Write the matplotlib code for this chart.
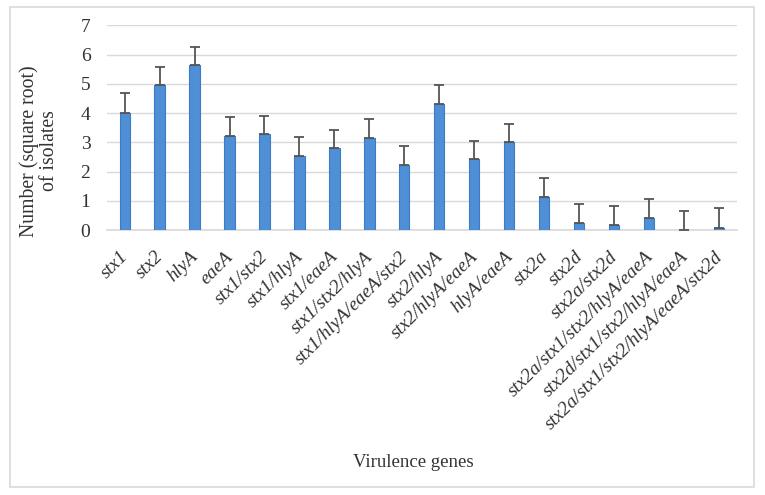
import matplotlib
matplotlib.use('Agg')
import matplotlib.pyplot as plt
import matplotlib.transforms as mtransforms
from matplotlib.patches import Rectangle

genes = ['stx1', 'stx2', 'hlyA', 'eaeA', 'stx1/stx2', 'stx1/hlyA', 'stx1/eaeA',
         'stx1/stx2/hlyA', 'stx1/hlyA/eaeA/stx2', 'stx2/hlyA', 'stx2/hlyA/eaeA',
         'hlyA/eaeA', 'stx2a', 'stx2d', 'stx2a/stx2d',
         'stx2a/stx1/stx2/hlyA/eaeA', 'stx2d/stx1/stx2/hlyA/eaeA',
         'stx2a/stx1/stx2/hlyA/eaeA/stx2d']
values = [4.0, 4.97, 5.63, 3.2, 3.28, 2.52, 2.8, 3.15, 2.23, 4.3, 2.44,
          3.0, 1.12, 0.26, 0.17, 0.43, 0.0, 0.08]
errors = [0.67, 0.62, 0.63, 0.67, 0.63, 0.66, 0.63, 0.64, 0.64, 0.65, 0.62,
          0.62, 0.66, 0.63, 0.67, 0.62, 0.64, 0.68]
yticks = [0, 1, 2, 3, 4, 5, 6, 7]

plt.rcParams['font.family'] = ['Liberation Serif', 'DejaVu Serif']

fig = plt.figure(figsize=(7.65, 4.95), dpi=100)
ax = fig.add_axes([0.140, 0.535, 0.823, 0.414])

x = list(range(len(genes)))
ax.bar(x, values, width=0.29, color='#4e8fd6', edgecolor='#3d7cc4', linewidth=0.8,
       zorder=3)
ax.errorbar(x, values, yerr=[[0] * len(errors), errors], fmt='none',
            ecolor='#555555', elinewidth=1.3, capsize=3.5, capthick=1.3, zorder=4)

ax.set_xlim(-0.5, len(genes) - 0.5)
ax.set_ylim(0, 7)
ax.set_yticks(yticks)
ax.set_yticklabels([str(t) for t in yticks], fontsize=14, color='#333333')
ax.yaxis.grid(True, color='#d9d9d9', linewidth=1, zorder=0)
ax.set_axisbelow(True)
for s in ['top', 'right', 'left']:
    ax.spines[s].set_visible(False)
ax.spines['bottom'].set_color('#d9d9d9')
ax.spines['bottom'].set_linewidth(1.2)
ax.tick_params(axis='both', length=0)
ax.tick_params(axis='y', pad=12)

ax.set_xticks(x)
ax.set_xticklabels(genes, rotation=45, ha='right', rotation_mode='anchor',
                   fontsize=13.9, style='italic', color='#333333')
ax.tick_params(axis='x', pad=13)
# nudge the rotated labels a little to the left
shift = mtransforms.ScaledTranslation(-5 / 100, 0, fig.dpi_scale_trans)
for lbl in ax.get_xticklabels():
    lbl.set_transform(lbl.get_transform() + shift)

# y label sits lower than the axes centre in the original
fig.text(39 / 765, 1 - 151 / 495, 'Number (square root)\nof isolates',
         rotation=90, fontsize=14.2, color='#333333', ha='center', va='center',
         linespacing=1.1, multialignment='center')
fig.text(0.540, 0.065, 'Virulence genes', fontsize=13.5, color='#333333',
         ha='center', va='center')

fig.patches.append(Rectangle((10 / 765, 1 - 487 / 495), 744 / 765, 480 / 495,
                             transform=fig.transFigure, fill=False,
                             edgecolor='#d9d9d9', linewidth=1.2))

fig.savefig('out.png', dpi=100)
